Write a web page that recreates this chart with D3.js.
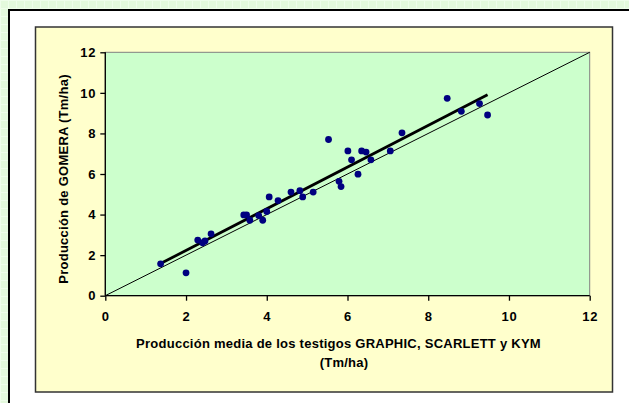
<!DOCTYPE html>
<html lang="es">
<head>
  <meta charset="utf-8">
  <title>GOMERA vs testigos</title>
  <script src="https://d3js.org/d3.v7.min.js"></script>
  <style>
    body { margin: 0; }
    svg text { font-family: "Liberation Sans", Arial, sans-serif; font-weight: bold; fill: #000; }
  </style>
</head>
<body>
<script>
// media de los testigos (x) y produccion de GOMERA (y), Tm/ha
var testigos = [1.37, 2.00, 2.29, 2.41, 2.47, 2.62, 3.43, 3.50, 3.58, 3.80, 3.90,
  4.00, 4.06, 4.28, 4.60, 4.82, 4.89, 5.15, 5.53, 6.01, 6.10, 5.79, 5.84, 6.26,
  6.35, 6.46, 6.58, 7.06, 7.35, 8.47, 8.82, 9.27, 9.47];
var gomera = [1.57, 1.13, 2.74, 2.61, 2.70, 3.05, 3.98, 3.98, 3.72, 3.95, 3.72,
  4.15, 4.87, 4.69, 5.11, 5.18, 4.87, 5.11, 7.70, 7.14, 6.70, 5.64, 5.38, 5.99,
  7.14, 7.08, 6.70, 7.14, 8.03, 9.73, 9.09, 9.47, 8.91];
var ticks = [0, 2, 4, 6, 8, 10, 12];
var xTitle = ["Producción media de los testigos GRAPHIC, SCARLETT y KYM", "(Tm/ha)"];
var yTitle = "Producción de GOMERA (Tm/ha)";

var w = 629, h = 403;
var plot = {left: 105.3, right: 589.7, top: 52.3, bottom: 295.7};

var svg = d3.select('body').append('svg')
  .attr('width', w)
  .attr('height', h);

// page background with a faint grid
var pat = svg.append('defs').append('pattern')
  .attr('id', 'grid')
  .attr('width', 8).attr('height', 8)
  .attr('patternUnits', 'userSpaceOnUse');
pat.append('rect').attr('width', 8).attr('height', 8).attr('fill', '#e3f9dc');
pat.append('path').attr('d', 'M0,0.5H8M0.5,0V8')
  .attr('stroke', '#eefdea').attr('stroke-width', 1);
svg.append('rect').attr('width', w).attr('height', h).attr('fill', 'url(#grid)');

// white slide frame
svg.append('rect')
  .attr('x', 9).attr('y', 10).attr('width', w + 20).attr('height', h + 20)
  .attr('fill', '#fff').attr('stroke', '#000').attr('stroke-width', 2);

// chart area
svg.append('rect')
  .attr('x', 35.5).attr('y', 27).attr('width', 577).attr('height', 365)
  .attr('fill', '#ffffcc').attr('stroke', '#333').attr('stroke-width', 1.5);

var x = d3.scaleLinear().domain([0, 12]).range([plot.left, plot.right]);
var y = d3.scaleLinear().domain([0, 12]).range([plot.bottom, plot.top]);

// plot area
svg.append('rect')
  .attr('x', plot.left).attr('y', plot.top)
  .attr('width', plot.right - plot.left).attr('height', plot.bottom - plot.top)
  .attr('fill', '#ccffcc').attr('stroke', '#808080').attr('stroke-width', 1);

// 1:1 line
svg.append('line')
  .attr('x1', x(0)).attr('y1', y(0))
  .attr('x2', x(12)).attr('y2', y(12))
  .attr('stroke', '#000').attr('stroke-width', 1);

// linear trend (least squares) over the range of the data
var n = testigos.length;
var mx = d3.mean(testigos), my = d3.mean(gomera);
var sxy = 0, sxx = 0;
for (var i = 0; i < n; i++) {
  sxy += (testigos[i] - mx) * (gomera[i] - my);
  sxx += (testigos[i] - mx) * (testigos[i] - mx);
}
var slope = sxy / sxx, icpt = my - slope * mx;
var x0 = d3.min(testigos), x1 = d3.max(testigos);
svg.append('line')
  .attr('x1', x(x0)).attr('y1', y(icpt + slope * x0))
  .attr('x2', x(x1)).attr('y2', y(icpt + slope * x1))
  .attr('stroke', '#000').attr('stroke-width', 2.8);

// points
svg.selectAll('circle')
  .data(testigos)
  .enter()
  .append('circle')
  .attr('cx', function(d) { return x(d); })
  .attr('cy', function(d, i) { return y(gomera[i]); })
  .attr('r', 3.4)
  .attr('fill', '#000080');

// axes
var xAxis = svg.append('g')
  .attr('transform', 'translate(0,' + plot.bottom + ')')
  .call(d3.axisBottom(x).tickValues(ticks).tickSize(5).tickPadding(11));
var yAxis = svg.append('g')
  .attr('transform', 'translate(' + plot.left + ',0)')
  .call(d3.axisLeft(y).tickValues(ticks).tickSize(5).tickPadding(4));
[xAxis, yAxis].forEach(function(g) {
  g.selectAll('path').attr('stroke', '#000').attr('stroke-width', 1.3);
  g.selectAll('line').attr('stroke', '#000').attr('stroke-width', 1.3);
  g.selectAll('text')
    .style('font-size', '13px')
    .style('letter-spacing', '0.8px')
    .attr('fill', '#000');
});
xAxis.select('.domain').attr('d', 'M' + plot.left + ',0H' + plot.right);
yAxis.select('.domain').attr('d', 'M0,' + plot.top + 'V' + plot.bottom);

// axis titles
svg.append('text')
  .attr('x', 338.5).attr('y', 347.5)
  .attr('text-anchor', 'middle')
  .style('font-size', '13px')
  .style('letter-spacing', '0.25px')
  .text(xTitle[0]);
svg.append('text')
  .attr('x', 344).attr('y', 366.5)
  .attr('text-anchor', 'middle')
  .style('font-size', '13px')
  .style('letter-spacing', '0.25px')
  .text(xTitle[1]);
svg.append('text')
  .attr('text-anchor', 'middle')
  .attr('transform', 'translate(68,179) rotate(-90)')
  .style('font-size', '13px')
  .style('letter-spacing', '0.25px')
  .text(yTitle);
</script>
</body>
</html>
